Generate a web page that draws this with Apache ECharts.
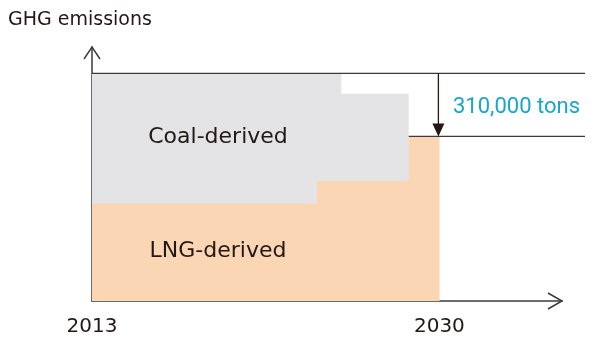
<!DOCTYPE html>
<html><head><meta charset="utf-8">
<script src="https://cdn.jsdelivr.net/npm/echarts@6/dist/echarts.min.js"></script>
<style>html,body{margin:0;padding:0;background:#fff}#c{width:600px;height:355px}</style>
</head><body><div id="c"></div>
<script>
// Data (schematic, units of 10,000 tons)
const years = [2013, 2024, 2025.2, 2028.5, 2030];
const lngValues = [48, 59, 59, 81, 81];
const coalValues = [64, 53, 43, 0, 0];
const tickYears = [2013, 2030];
const seriesNames = ['LNG-derived', 'Coal-derived'];
const reductionLabel = '310,000 tons';
const yTitle = 'GHG emissions';

const INK = '#231815';
const LINE = '#3e3a39';
const chart = echarts.init(document.getElementById('c'), null, {renderer: 'canvas'});

// cumulative top of the coal layer (coal stacked on LNG)
const totalValues = lngValues.map((v, i) => v + coalValues[i]);

const opt = {
  animation: false,
  grid: {left: 92, right: 38, top: 47, bottom: 54},
  xAxis: {
    type: 'value', min: 2013, max: 2036,
    splitLine: {show: false},
    axisLine: {lineStyle: {color: LINE, width: 1.5}},
    axisTick: {show: false},
    axisLabel: {customValues: tickYears, margin: 16, color: INK, fontFamily: 'DejaVu Sans', fontSize: 20,
      formatter: v => String(v)}
  },
  yAxis: {
    type: 'value', min: 0, max: 125,
    splitLine: {show: false},
    axisLine: {show: true, lineStyle: {color: LINE, width: 1.5}},
    axisTick: {show: false},
    axisLabel: {show: false}
  },
  series: [
    {name: seriesNames[1], type: 'line', step: 'end', symbol: 'none',
     lineStyle: {width: 0}, areaStyle: {color: '#E4E4E6', opacity: 1},
     data: years.map((y, i) => [y, totalValues[i]]), z: 1},
    {name: seriesNames[0], type: 'line', step: 'end', symbol: 'none',
     lineStyle: {width: 0}, areaStyle: {color: '#FAD6B4', opacity: 1},
     data: years.map((y, i) => [y, lngValues[i]]), z: 2}
  ]
};
chart.setOption(opt);

const px = (x, y) => chart.convertToPixel({gridIndex: 0}, [x, y]);
const top0 = px(years[0], totalValues[0]);
const last = years.length - 1;
const end2030 = px(years[last], totalValues[last]);
const stepStart = px(years[last - 1], lngValues[last - 1]);
const xEnd = px(2036, 0);
const yEnd = px(2013, 125);
const lineRight = xEnd[0] + 23;
const arrowX = end2030[0] - 1;

chart.setOption({
  graphic: [
    // axis arrows (open chevrons)
    {type: 'polyline', shape: {points: [[xEnd[0] - 14, xEnd[1] - 8], [xEnd[0], xEnd[1]], [xEnd[0] - 14, xEnd[1] + 8]]},
     style: {stroke: LINE, lineWidth: 1.5, fill: null}, z: 10},
    {type: 'polyline', shape: {points: [[yEnd[0] - 8, yEnd[1] + 12], [yEnd[0], yEnd[1]], [yEnd[0] + 8, yEnd[1] + 12]]},
     style: {stroke: LINE, lineWidth: 1.5, fill: null}, z: 10},
    // reference lines
    {type: 'line', shape: {x1: top0[0], y1: top0[1], x2: lineRight, y2: top0[1]},
     style: {stroke: LINE, lineWidth: 1.3}, z: 10},
    {type: 'line', shape: {x1: stepStart[0], y1: end2030[1], x2: lineRight, y2: end2030[1]},
     style: {stroke: LINE, lineWidth: 1.3}, z: 10},
    // reduction arrow
    {type: 'line', shape: {x1: arrowX, y1: top0[1], x2: arrowX, y2: end2030[1] - 12},
     style: {stroke: '#231815', lineWidth: 1.3}, z: 10},
    {type: 'polygon', shape: {points: [[arrowX - 6, end2030[1] - 13], [arrowX + 6, end2030[1] - 13], [arrowX, end2030[1]]]},
     style: {fill: '#231815'}, z: 10},
    // texts
    {type: 'text', x: 8, y: 20, style: {text: yTitle, fill: INK, font: '19px "DejaVu Sans"', textVerticalAlign: 'middle'}, z: 10},
    {type: 'text', x: 218, y: 137, style: {text: seriesNames[1], fill: INK, font: '22px "DejaVu Sans"', textAlign: 'center', textVerticalAlign: 'middle'}, z: 10},
    {type: 'text', x: 218, y: 251, style: {text: seriesNames[0], fill: INK, font: '22px "DejaVu Sans"', textAlign: 'center', textVerticalAlign: 'middle'}, z: 10},
    {type: 'text', x: 453, y: 107, style: {text: reductionLabel, fill: '#1aa5cc', font: '22px Roboto', textVerticalAlign: 'middle'}, z: 10}
  ]
});
</script></body></html>
